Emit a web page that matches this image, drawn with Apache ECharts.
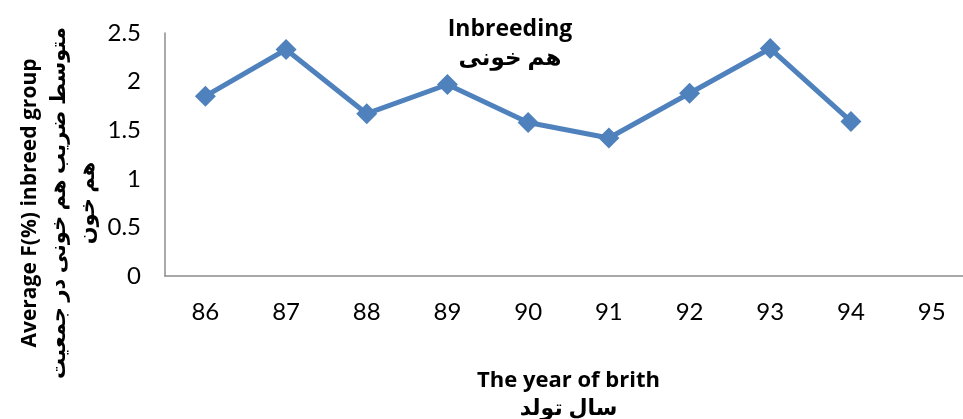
<!DOCTYPE html>
<html>
<head>
<meta charset="utf-8">
<script src="https://cdn.jsdelivr.net/npm/echarts@6/dist/echarts.min.js"></script>
<style>
  html, body { margin: 0; padding: 0; background: #fff; }
  #main { width: 963px; height: 419px; }
</style>
</head>
<body>
<div id="main"></div>
<script>
var years = ["86", "87", "88", "89", "90", "91", "92", "93", "94", "95"];
var inbreeding = [1.85, 2.33, 1.67, 1.97, 1.58, 1.42, 1.88, 2.34, 1.59, null];
var yTicks = [0, 0.5, 1, 1.5, 2, 2.5];

var font = "Lato, 'Liberation Sans', 'DejaVu Sans', sans-serif";
var boldFont = "'Open Sans', 'DejaVu Sans', sans-serif";

var option = {
  animation: false,
  backgroundColor: "#fff",
  title: {
    text: "Inbreeding\nهم خونی",
    left: 505,
    top: 10,
    textAlign: "center",
    textStyle: {
      fontFamily: boldFont,
      fontWeight: "bold",
      fontSize: 23,
      lineHeight: 29,
      color: "#000"
    }
  },
  grid: {
    left: 165,
    top: 33,
    width: 807,
    height: 243,
    outerBoundsMode: "none",
    containLabel: false
  },
  xAxis: {
    type: "category",
    data: years,
    boundaryGap: true,
    axisLine: { lineStyle: { color: "#8c8c8c", width: 1.5 } },
    axisTick: { show: false },
    axisLabel: { fontFamily: font, fontSize: 24, color: "#000", margin: 24 },
    name: "The year of brith\nسال تولد",
    nameLocation: "middle",
    nameGap: 91,
    nameTextStyle: {
      fontFamily: boldFont,
      fontWeight: "bold",
      fontSize: 22,
      lineHeight: 28,
      color: "#000",
      verticalAlign: "top"
    }
  },
  yAxis: {
    type: "value",
    min: yTicks[0],
    max: yTicks[yTicks.length - 1],
    interval: 0.5,
    splitLine: { show: false },
    axisLine: { show: true, lineStyle: { color: "#8c8c8c", width: 1.5 } },
    axisTick: { show: false },
    axisLabel: { fontFamily: font, fontSize: 24, color: "#000", margin: 24 }
  },
  graphic: [
    {
      type: "text",
      x: 59,
      y: 203,
      rotation: Math.PI / 2,
      style: {
        text: "Average F(%) inbreed group\nمتوسط ضریب هم خونی در جمعیت\nهم خون",
        fontFamily: boldFont,
        fontWeight: "bold",
        fontSize: 21,
        lineHeight: 29,
        fill: "#000",
        align: "center",
        verticalAlign: "middle"
      }
    }
  ],
  series: [
    {
      name: "Inbreeding",
      type: "line",
      data: inbreeding,
      symbol: "diamond",
      symbolSize: 21,
      lineStyle: { color: "#4f81bd", width: 5 },
      itemStyle: { color: "#4f81bd" }
    }
  ]
};

var myChart = echarts.init(document.getElementById("main"));
myChart.setOption(option);
</script>
</body>
</html>
